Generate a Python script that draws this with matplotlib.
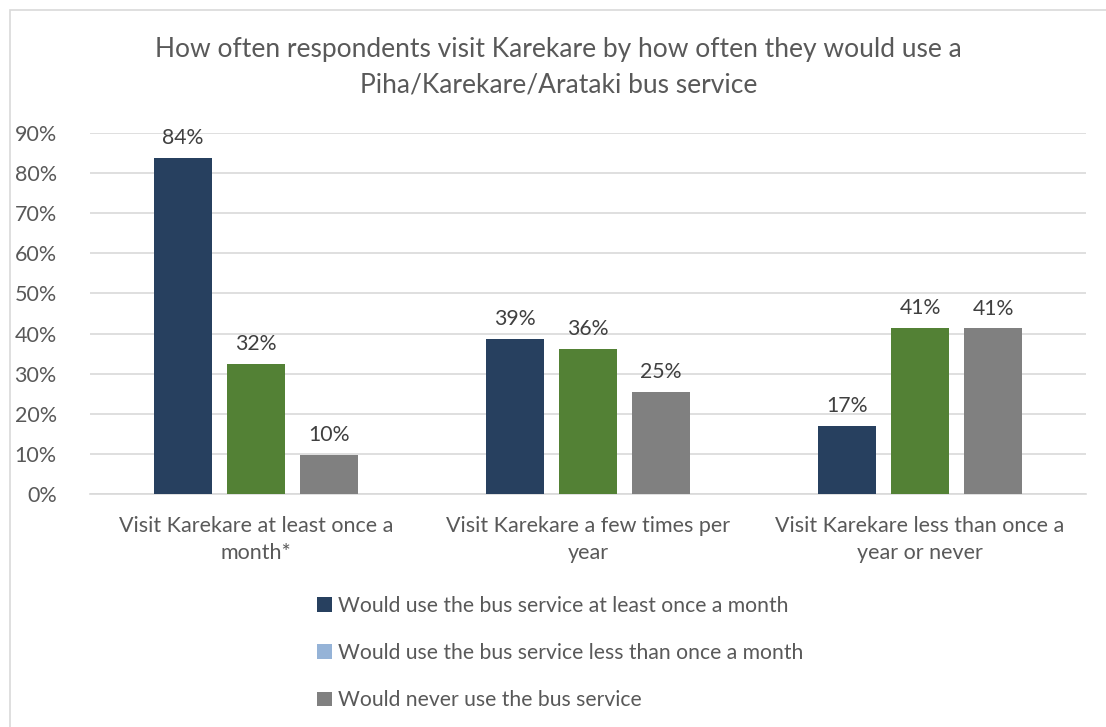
import numpy as np
import matplotlib.pyplot as plt
from matplotlib.patches import Patch, Rectangle

plt.rcParams['font.family'] = ['Lato', 'DejaVu Sans']

categories = ['Visit Karekare at least once a\nmonth*',
              'Visit Karekare a few times per\nyear',
              'Visit Karekare less than once a\nyear or never']
series = ['Would use the bus service at least once a month',
          'Would use the bus service less than once a month',
          'Would never use the bus service']
at_least_monthly = [83.8, 38.7, 17.0]
less_than_monthly = [32.4, 36.2, 41.45]
never = [9.7, 25.4, 41.3]

bar_colors = ['#27405F', '#538135', '#808080']
legend_colors = ['#27405F', '#95B3D7', '#808080']
text_color = '#595959'

fig = plt.figure(figsize=(11.06, 7.27), dpi=100)
# chart frame
fig.patches.append(Rectangle((10 / 1106, -0.01), 1.1, 1 - 10 / 727 + 0.01,
                             transform=fig.transFigure, fill=False,
                             edgecolor='#D9D9D9', linewidth=1.2))

ax = fig.add_axes([90 / 1106, 1 - 494 / 727, (1086 - 90) / 1106, (494 - 133) / 727])

x = np.arange(len(categories))
width = 0.175
step = 0.22
for i, vals in enumerate([at_least_monthly, less_than_monthly, never]):
    bars = ax.bar(x + (i - 1) * step, vals, width, color=bar_colors[i], zorder=3)
    for b, v in zip(bars, vals):
        ax.text(b.get_x() + b.get_width() / 2, v + 2.4, f'{v:.0f}%',
                ha='center', va='bottom', fontsize=15.3, color='#404040')

ax.set_xlim(-0.5, 2.5)
ax.set_ylim(0, 90)
ax.set_yticks(np.arange(0, 91, 10))
ax.set_yticklabels([f'{t}%' for t in range(0, 91, 10)])
ax.yaxis.grid(True, color='#D9D9D9', linewidth=1.2, zorder=0)
ax.set_xticks(x)
ax.set_xticklabels(categories, linespacing=1.45)
ax.tick_params(axis='both', length=0, labelsize=15.5, colors=text_color)
ax.tick_params(axis='x', pad=16)
ax.tick_params(axis='y', pad=24)
for s in ['top', 'right', 'left']:
    ax.spines[s].set_visible(False)
ax.spines['bottom'].set_color('#D9D9D9')
ax.spines['bottom'].set_linewidth(1.2)

fig.text(0.505, 1 - 50 / 727, 'How often respondents visit Karekare by how often they would use a',
         ha='center', va='center', fontsize=19, color=text_color)
fig.text(0.505, 1 - 85 / 727, 'Piha/Karekare/Arataki bus service',
         ha='center', va='center', fontsize=19, color=text_color)

handles = [Patch(facecolor=c) for c in legend_colors]
fig.legend(handles, series, loc='center', bbox_to_anchor=(560 / 1106, 1 - 653 / 727),
           frameon=False, fontsize=15.2, labelcolor=text_color, handlelength=0.7,
           handleheight=0.7, handletextpad=0.3, labelspacing=1.3)

plt.savefig('out.png', dpi=100)
